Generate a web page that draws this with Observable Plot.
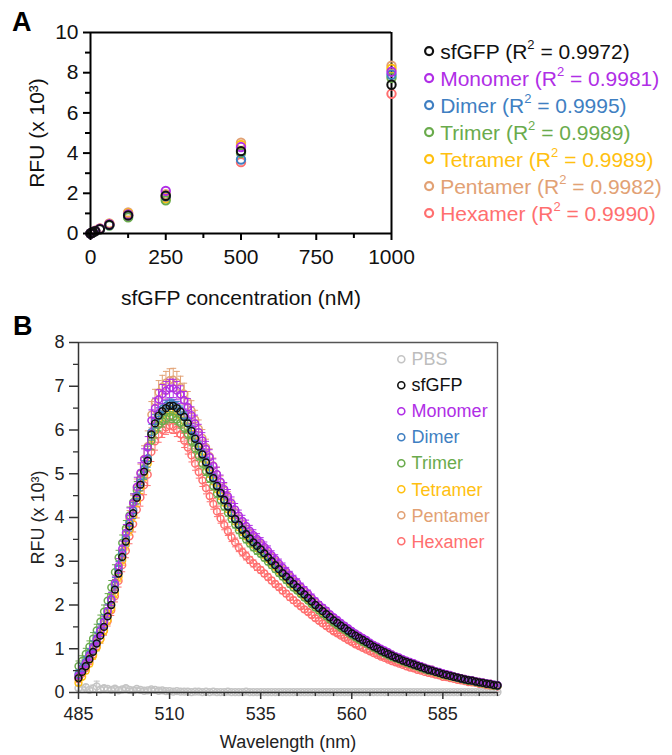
<!DOCTYPE html>
<html><head><meta charset="utf-8">
<script src="https://cdn.jsdelivr.net/npm/d3@7"></script>
<script src="https://cdn.jsdelivr.net/npm/@observablehq/plot@0.6"></script>
<style>
body{margin:0;background:#fff;font-family:"Liberation Sans",Arial,sans-serif;}
#wrap{position:relative;width:672px;height:755px;overflow:hidden;background:#fff;}
#wrap svg.p{position:absolute;left:0;}
.tag{position:absolute;font-weight:bold;font-size:27px;line-height:1;color:#000;}
.legend{position:absolute;}
.legend .row{display:flex;align-items:center;white-space:nowrap;line-height:1;}
.legend sup{font-size:0.62em;line-height:0;vertical-align:0.75em;}
</style></head><body><div id="wrap"></div>
<script>
// ---------- Panel A data (RFU x 10^3 vs sfGFP concentration, nM) ----------
const concentrations = [0, 3.9, 7.8, 15.6, 31.25, 62.5, 125, 250, 500, 1000];
const stdSfGFP    = [0, 0.03, 0.06, 0.12, 0.22, 0.43, 0.90, 1.88, 4.10, 7.40];
const stdMonomer  = [0, 0.03, 0.07, 0.13, 0.24, 0.46, 0.95, 2.12, 4.30, 8.05];
const stdDimer    = [0, 0.03, 0.06, 0.12, 0.22, 0.42, 0.90, 1.85, 3.68, 7.90];
const stdTrimer   = [0, 0.03, 0.06, 0.11, 0.21, 0.40, 0.80, 1.65, 4.00, 7.75];
const stdTetramer = [0, 0.03, 0.07, 0.13, 0.24, 0.48, 1.00, 1.75, 4.40, 8.20];
const stdPentamer = [0, 0.04, 0.07, 0.14, 0.25, 0.50, 1.05, 1.95, 4.52, 8.35];
const stdHexamer  = [0, 0.03, 0.06, 0.12, 0.22, 0.44, 0.88, 1.80, 3.55, 6.95];
const namesA = ["sfGFP", "Monomer", "Dimer", "Trimer", "Tetramer", "Pentamer", "Hexamer"];
const r2Values = ["0.9972", "0.9981", "0.9995", "0.9989", "0.9989", "0.9982", "0.9990"];
const xTicksA = [0, 250, 500, 750, 1000];
const xMinorA = [125, 375, 625, 875];
const yTicksA = [0, 2, 4, 6, 8, 10];
const yMinorA = [1, 3, 5, 7, 9];

// ---------- Panel B data (emission spectra, 485-600 nm, 1 nm steps) ----------
const wavelengths = d3.range(485, 601);
const specPBS = [0.1,0.08,0.12,0.06,0.09,0.14,0.07,0.1,0.08,0.06,
 0.09,0.05,0.07,0.1,0.06,0.05,0.08,0.06,0.04,0.05,
 0.07,0.06,0.04,0.05,0.03,0.03,0.02,0.03,0.02,0.02,
 0.02,0.01,0.02,0.02,0.01,0.02,0.01,0.02,0.01,0.01,
 0.01,0.02,0.01,0.01,0.01,0.01,0.02,0.01,0.01,0.01,
 0.01,0.01,0.01,0.01,0.01,0.01,0.01,0.01,0.01,0.01,
 0.01,0.01,0.01,0.01,0.01,0.01,0.01,0.01,0.01,0.01,
 0.01,0.01,0.01,0.01,0.01,0.01,0.01,0.01,0.01,0.01,
 0.01,0.01,0.01,0.01,0.01,0.01,0.01,0.01,0.01,0.01,
 0.01,0.01,0.01,0.01,0.01,0.01,0.01,0.01,0.01,0.01,
 0.01,0.01,0.01,0.01,0.01,0.01,0.01,0.01,0.01,0.01,
 0.01,0.01,0.01,0.01,0.01,0.01];
const specSfGFP = [0.33,0.47,0.6,0.76,0.93,1.12,1.3,1.5,1.74,2.0,
 2.35,2.72,3.1,3.45,3.8,4.1,4.45,4.75,5.05,5.3,
 5.9,6.15,6.33,6.43,6.5,6.55,6.55,6.5,6.42,6.3,
 6.15,5.98,5.8,5.62,5.44,5.26,5.08,4.9,4.72,4.56,
 4.4,4.25,4.1,3.96,3.83,3.72,3.62,3.52,3.43,3.35,
 3.27,3.18,3.09,3.0,2.91,2.82,2.73,2.65,2.56,2.48,
 2.4,2.32,2.24,2.16,2.08,2.0,1.93,1.86,1.79,1.72,
 1.65,1.59,1.53,1.47,1.41,1.35,1.3,1.25,1.2,1.15,
 1.1,1.05,1.01,0.96,0.92,0.88,0.84,0.8,0.77,0.73,
 0.7,0.67,0.64,0.61,0.58,0.55,0.52,0.5,0.47,0.45,
 0.42,0.4,0.38,0.36,0.34,0.32,0.3,0.28,0.27,0.25,
 0.23,0.22,0.2,0.19,0.17,0.16];
const specMonomer = [0.38,0.52,0.66,0.83,1.01,1.2,1.4,1.61,1.86,2.14,
 2.5,2.89,3.28,3.65,4.02,4.33,4.7,5.02,5.33,5.6,
 6.22,6.5,6.7,6.82,6.9,6.95,6.95,6.9,6.81,6.68,
 6.52,6.34,6.15,5.95,5.76,5.57,5.38,5.18,4.99,4.82,
 4.65,4.49,4.33,4.18,4.04,3.92,3.81,3.7,3.6,3.51,
 3.43,3.33,3.24,3.14,3.05,2.95,2.86,2.77,2.68,2.59,
 2.51,2.42,2.34,2.26,2.17,2.09,2.01,1.94,1.87,1.79,
 1.72,1.66,1.59,1.53,1.47,1.41,1.35,1.3,1.25,1.2,
 1.14,1.09,1.05,1.0,0.96,0.92,0.87,0.83,0.8,0.76,
 0.73,0.7,0.67,0.63,0.6,0.57,0.54,0.52,0.49,0.47,
 0.44,0.42,0.4,0.37,0.35,0.33,0.31,0.29,0.28,0.26,
 0.24,0.23,0.21,0.2,0.18,0.17];
const specDimer = [0.42,0.56,0.7,0.87,1.04,1.23,1.42,1.62,1.86,2.12,
 2.46,2.82,3.19,3.53,3.87,4.16,4.5,4.8,5.1,5.35,
 5.95,6.2,6.38,6.48,6.55,6.6,6.59,6.54,6.45,6.33,
 6.18,6.01,5.83,5.64,5.46,5.28,5.1,4.92,4.74,4.57,
 4.41,4.26,4.11,3.97,3.84,3.73,3.63,3.53,3.44,3.36,
 3.28,3.19,3.1,3.01,2.92,2.83,2.74,2.66,2.57,2.49,
 2.41,2.33,2.25,2.17,2.09,2.01,1.94,1.87,1.8,1.73,
 1.66,1.6,1.54,1.48,1.42,1.36,1.31,1.26,1.21,1.16,
 1.11,1.06,1.02,0.97,0.93,0.89,0.85,0.81,0.78,0.74,
 0.71,0.68,0.65,0.62,0.59,0.56,0.53,0.5,0.48,0.45,
 0.43,0.41,0.38,0.36,0.34,0.32,0.3,0.29,0.27,0.25,
 0.24,0.22,0.21,0.19,0.18,0.16];
const specTrimer = [0.6,0.72,0.88,1.05,1.23,1.42,1.62,1.85,2.1,2.4,
 2.75,3.08,3.42,3.75,4.05,4.35,4.62,4.88,5.12,5.35,
 5.75,5.98,6.12,6.2,6.26,6.3,6.29,6.24,6.16,6.05,
 5.91,5.75,5.58,5.41,5.23,5.06,4.89,4.72,4.55,4.4,
 4.25,4.11,3.97,3.84,3.71,3.6,3.5,3.41,3.32,3.24,
 3.17,3.08,2.99,2.91,2.82,2.73,2.65,2.57,2.48,2.4,
 2.33,2.25,2.17,2.1,2.02,1.94,1.87,1.8,1.74,1.67,
 1.6,1.54,1.48,1.43,1.37,1.31,1.26,1.21,1.16,1.12,
 1.07,1.02,0.98,0.93,0.89,0.85,0.81,0.78,0.75,0.71,
 0.68,0.65,0.62,0.59,0.56,0.53,0.5,0.49,0.46,0.44,
 0.41,0.39,0.37,0.35,0.33,0.31,0.29,0.27,0.26,0.24,
 0.22,0.21,0.19,0.18,0.16,0.15];
const specTetramer = [0.22,0.36,0.5,0.66,0.84,1.03,1.22,1.42,1.66,1.93,
 2.27,2.64,3.02,3.38,3.72,4.03,4.38,4.68,4.98,5.23,
 5.82,6.06,6.24,6.34,6.41,6.45,6.45,6.4,6.32,6.2,
 6.06,5.89,5.72,5.54,5.36,5.18,5.0,4.83,4.65,4.49,
 4.34,4.19,4.05,3.91,3.78,3.67,3.57,3.47,3.38,3.3,
 3.22,3.14,3.05,2.96,2.87,2.78,2.7,2.62,2.53,2.45,
 2.37,2.29,2.21,2.13,2.05,1.98,1.91,1.84,1.77,1.7,
 1.63,1.57,1.51,1.45,1.39,1.33,1.28,1.23,1.18,1.13,
 1.09,1.04,1.0,0.95,0.91,0.87,0.83,0.79,0.76,0.72,
 0.69,0.66,0.63,0.6,0.57,0.54,0.51,0.49,0.46,0.44,
 0.41,0.39,0.37,0.35,0.33,0.31,0.29,0.27,0.26,0.24,
 0.22,0.21,0.19,0.18,0.16,0.15];
const specPentamer = [0.35,0.49,0.63,0.79,0.97,1.16,1.35,1.56,1.8,2.08,
 2.44,2.83,3.22,3.6,3.97,4.3,4.67,5.0,5.34,5.63,
 6.35,6.65,6.86,6.99,7.08,7.14,7.15,7.09,6.98,6.83,
 6.65,6.45,6.24,6.03,5.82,5.61,5.4,5.19,4.99,4.8,
 4.62,4.45,4.28,4.12,3.98,3.85,3.74,3.63,3.54,3.45,
 3.37,3.28,3.18,3.09,3.0,2.9,2.81,2.73,2.64,2.55,
 2.47,2.39,2.31,2.22,2.14,2.06,1.99,1.92,1.84,1.77,
 1.7,1.64,1.58,1.51,1.45,1.39,1.34,1.29,1.24,1.18,
 1.13,1.08,1.04,0.99,0.95,0.91,0.87,0.82,0.79,0.75,
 0.72,0.69,0.66,0.63,0.6,0.57,0.54,0.52,0.48,0.46,
 0.43,0.41,0.39,0.37,0.35,0.33,0.31,0.29,0.28,0.26,
 0.24,0.23,0.21,0.2,0.18,0.16];
const specHexamer = [0.3,0.43,0.56,0.71,0.87,1.05,1.22,1.41,1.63,1.88,
 2.2,2.55,2.91,3.24,3.57,3.85,4.18,4.46,4.74,4.98,
 5.5,5.74,5.9,6.0,6.06,6.1,6.08,6.01,5.9,5.76,
 5.6,5.42,5.23,5.04,4.85,4.67,4.49,4.31,4.14,3.98,
 3.83,3.69,3.55,3.43,3.31,3.21,3.12,3.03,2.95,2.87,
 2.8,2.72,2.64,2.56,2.48,2.41,2.33,2.26,2.18,2.11,
 2.04,1.97,1.9,1.84,1.77,1.7,1.64,1.58,1.52,1.46,
 1.4,1.35,1.3,1.25,1.2,1.15,1.1,1.06,1.02,0.98,
 0.94,0.9,0.86,0.82,0.79,0.75,0.72,0.69,0.66,0.63,
 0.6,0.57,0.55,0.52,0.5,0.47,0.45,0.43,0.41,0.39,
 0.36,0.35,0.33,0.31,0.29,0.28,0.26,0.24,0.23,0.22,
 0.2,0.19,0.17,0.16,0.15,0.14];

// standard deviations (error bars)
const errPBS = [0.05,0.04,0.06,0.04,0.08,0.12,0.05,0.06,0.04,0.04,
 0.05,0.03,0.04,0.05,0.03,0.03,0.04,0.03,0.02,0.03,
 0.04,0.03,0.02,0.03,0.02,0.02,0.01,0.02,0.01,0.01,
 0.01,0.01,0.01,0.01,0.01,0.01,0.01,0.01,0.01,0.01,
 0.01,0.01,0.01,0.01,0.01,0.01,0.01,0.01,0.01,0.01,
 0.01,0.01,0.01,0.01,0.01,0.01,0.01,0.01,0.01,0.01,
 0.01,0.01,0.01,0.01,0.01,0.01,0.01,0.01,0.01,0.01,
 0.01,0.01,0.01,0.01,0.01,0.01,0.01,0.01,0.01,0.01,
 0.01,0.01,0.01,0.01,0.01,0.01,0.01,0.01,0.01,0.01,
 0.01,0.01,0.01,0.01,0.01,0.01,0.01,0.01,0.01,0.01,
 0.01,0.01,0.01,0.01,0.01,0.01,0.01,0.01,0.01,0.01,
 0.01,0.01,0.01,0.01,0.01,0.01];
const errMonomer = [0.06,0.07,0.08,0.09,0.1,0.11,0.12,0.13,0.14,0.15,
 0.16,0.17,0.18,0.19,0.2,0.21,0.22,0.23,0.24,0.25,
 0.24,0.23,0.22,0.22,0.21,0.21,0.21,0.21,0.2,0.2,
 0.2,0.19,0.19,0.18,0.18,0.17,0.17,0.16,0.16,0.15,
 0.15,0.15,0.14,0.14,0.13,0.13,0.13,0.12,0.12,0.12,
 0.11,0.11,0.11,0.1,0.1,0.1,0.1,0.09,0.09,0.09,
 0.09,0.08,0.08,0.08,0.08,0.07,0.07,0.07,0.07,0.06,
 0.06,0.06,0.06,0.06,0.05,0.05,0.05,0.05,0.05,0.05,
 0.04,0.04,0.04,0.04,0.04,0.04,0.04,0.04,0.04,0.04,
 0.03,0.03,0.03,0.03,0.03,0.03,0.03,0.03,0.03,0.03,
 0.03,0.03,0.03,0.03,0.03,0.03,0.03,0.03,0.03,0.03,
 0.02,0.02,0.02,0.02,0.02,0.02];
const errDimer = [0.1,0.11,0.12,0.13,0.14,0.15,0.15,0.16,0.16,0.17,
 0.17,0.17,0.18,0.18,0.18,0.18,0.19,0.19,0.2,0.2,
 0.18,0.15,0.13,0.12,0.12,0.11,0.11,0.11,0.1,0.1,
 0.1,0.1,0.1,0.09,0.09,0.09,0.09,0.08,0.08,0.08,
 0.07,0.07,0.07,0.07,0.07,0.07,0.07,0.07,0.07,0.07,
 0.06,0.06,0.06,0.06,0.06,0.06,0.06,0.06,0.06,0.06,
 0.05,0.05,0.05,0.05,0.05,0.05,0.05,0.05,0.05,0.05,
 0.05,0.05,0.05,0.05,0.05,0.05,0.05,0.05,0.05,0.05,
 0.04,0.04,0.04,0.04,0.04,0.04,0.04,0.04,0.04,0.04,
 0.03,0.03,0.03,0.03,0.03,0.03,0.03,0.03,0.03,0.03,
 0.02,0.02,0.02,0.02,0.02,0.02,0.02,0.02,0.02,0.02,
 0.02,0.02,0.02,0.02,0.02,0.02];
const errTrimer = [0.12,0.12,0.13,0.13,0.14,0.14,0.15,0.15,0.16,0.16,
 0.17,0.17,0.18,0.18,0.19,0.19,0.2,0.2,0.25,0.28,
 0.2,0.16,0.14,0.13,0.12,0.12,0.12,0.12,0.12,0.11,
 0.11,0.11,0.1,0.1,0.1,0.1,0.09,0.09,0.09,0.09,
 0.08,0.08,0.08,0.08,0.08,0.08,0.08,0.08,0.08,0.08,
 0.07,0.07,0.07,0.07,0.07,0.07,0.07,0.07,0.07,0.07,
 0.06,0.06,0.06,0.06,0.06,0.06,0.06,0.06,0.06,0.06,
 0.05,0.05,0.05,0.05,0.05,0.05,0.05,0.05,0.05,0.05,
 0.04,0.04,0.04,0.04,0.04,0.04,0.04,0.04,0.04,0.04,
 0.03,0.03,0.03,0.03,0.03,0.03,0.03,0.03,0.03,0.03,
 0.03,0.03,0.03,0.03,0.03,0.03,0.03,0.03,0.03,0.03,
 0.02,0.02,0.02,0.02,0.02,0.02];
const errTetramer = [0.06,0.06,0.07,0.07,0.08,0.08,0.09,0.09,0.1,0.1,
 0.1,0.11,0.11,0.12,0.12,0.12,0.13,0.13,0.14,0.14,
 0.13,0.12,0.12,0.11,0.11,0.11,0.11,0.11,0.1,0.1,
 0.1,0.1,0.09,0.09,0.09,0.09,0.08,0.08,0.08,0.08,
 0.07,0.07,0.07,0.07,0.07,0.07,0.07,0.07,0.07,0.07,
 0.06,0.06,0.06,0.06,0.06,0.06,0.06,0.06,0.06,0.06,
 0.05,0.05,0.05,0.05,0.05,0.05,0.05,0.05,0.05,0.05,
 0.04,0.04,0.04,0.04,0.04,0.04,0.04,0.04,0.04,0.04,
 0.04,0.04,0.04,0.04,0.04,0.04,0.04,0.04,0.04,0.04,
 0.03,0.03,0.03,0.03,0.03,0.03,0.03,0.03,0.03,0.03,
 0.02,0.02,0.02,0.02,0.02,0.02,0.02,0.02,0.02,0.02,
 0.02,0.02,0.02,0.02,0.02,0.02];
const errPentamer = [0.05,0.06,0.07,0.08,0.09,0.1,0.11,0.12,0.13,0.14,
 0.15,0.16,0.17,0.18,0.19,0.2,0.21,0.22,0.3,0.35,
 0.3,0.28,0.27,0.26,0.26,0.26,0.26,0.25,0.25,0.24,
 0.23,0.22,0.21,0.2,0.19,0.18,0.17,0.17,0.16,0.15,
 0.15,0.14,0.14,0.13,0.13,0.12,0.12,0.11,0.11,0.11,
 0.1,0.1,0.1,0.09,0.09,0.09,0.09,0.08,0.08,0.08,
 0.08,0.07,0.07,0.07,0.07,0.06,0.06,0.06,0.06,0.06,
 0.05,0.05,0.05,0.05,0.05,0.05,0.05,0.05,0.05,0.05,
 0.04,0.04,0.04,0.04,0.04,0.04,0.04,0.04,0.04,0.04,
 0.03,0.03,0.03,0.03,0.03,0.03,0.03,0.03,0.03,0.03,
 0.02,0.02,0.02,0.02,0.02,0.02,0.02,0.02,0.02,0.02,
 0.02,0.02,0.02,0.02,0.02,0.02];
const errHexamer = [0.04,0.05,0.05,0.06,0.07,0.08,0.09,0.1,0.11,0.12,
 0.13,0.14,0.15,0.16,0.17,0.18,0.19,0.2,0.22,0.25,
 0.22,0.2,0.18,0.17,0.16,0.16,0.16,0.16,0.16,0.16,
 0.15,0.15,0.15,0.14,0.14,0.13,0.13,0.12,0.12,0.11,
 0.11,0.1,0.1,0.1,0.09,0.09,0.09,0.08,0.08,0.08,
 0.07,0.07,0.07,0.07,0.07,0.07,0.07,0.07,0.07,0.07,
 0.06,0.06,0.06,0.06,0.06,0.06,0.06,0.06,0.06,0.06,
 0.05,0.05,0.05,0.05,0.05,0.05,0.05,0.05,0.05,0.05,
 0.04,0.04,0.04,0.04,0.04,0.04,0.04,0.04,0.04,0.04,
 0.03,0.03,0.03,0.03,0.03,0.03,0.03,0.03,0.03,0.03,
 0.03,0.03,0.03,0.03,0.03,0.03,0.03,0.03,0.03,0.03,
 0.02,0.02,0.02,0.02,0.02,0.02];

const namesB = ["PBS", "sfGFP", "Monomer", "Dimer", "Trimer", "Tetramer", "Pentamer", "Hexamer"];
const xTicksB = [485, 510, 535, 560, 585];
const xMinorB = [490, 495, 500, 505, 515, 520, 525, 530, 540, 545, 550, 555, 565, 570, 575, 580, 590, 595, 600];
const yTicksB = [0, 1, 2, 3, 4, 5, 6, 7, 8];
const yMinorB = [0.5, 1.5, 2.5, 3.5, 4.5, 5.5, 6.5, 7.5];

// colours
const seriesColors = {
  PBS: "#c4c4c4", sfGFP: "#111111", Monomer: "#b02ee6", Dimer: "#3f7fc2",
  Trimer: "#6aab4c", Tetramer: "#ffc010", Pentamer: "#e2a174", Hexamer: "#ff6f6f"
};
const FONT = "'Liberation Sans', Arial, sans-serif";

// ---------- build tables ----------
const stdTable = {sfGFP: stdSfGFP, Monomer: stdMonomer, Dimer: stdDimer, Trimer: stdTrimer,
  Tetramer: stdTetramer, Pentamer: stdPentamer, Hexamer: stdHexamer};
const orderA = ["Hexamer", "Pentamer", "Tetramer", "Trimer", "Dimer", "Monomer", "sfGFP"];
const dataA = orderA.flatMap(s => stdTable[s].map((v, i) => ({c: concentrations[i], v, s})));

const specTable = {PBS: specPBS, sfGFP: specSfGFP, Monomer: specMonomer, Dimer: specDimer,
  Trimer: specTrimer, Tetramer: specTetramer, Pentamer: specPentamer, Hexamer: specHexamer};
const errTable = {PBS: errPBS, Monomer: errMonomer, Dimer: errDimer, Trimer: errTrimer,
  Tetramer: errTetramer, Pentamer: errPentamer, Hexamer: errHexamer};
const orderB = ["PBS", "Hexamer", "Pentamer", "Tetramer", "Trimer", "Dimer", "Monomer", "sfGFP"];
const seriesRows = s => specTable[s].map((v, i) => {
  const e = errTable[s] ? errTable[s][i] : 0;
  return {w: wavelengths[i], v, lo: v - e, hi: v + e, s};
});

// horizontal cap symbol for error bars
const capSymbol = {draw(ctx, size) { const r = Math.sqrt(size / Math.PI); ctx.moveTo(-r, 0); ctx.lineTo(r, 0); }};

const wrap = document.getElementById("wrap");

// ---------- Panel A ----------
const plotA = Plot.plot({
  width: 672, height: 310,
  marginLeft: 90, marginRight: 281, marginTop: 32, marginBottom: 77,
  style: {fontSize: "21px", fontFamily: FONT, color: "#000", background: "transparent", overflow: "visible"},
  x: {domain: [0, 1000], label: null},
  y: {domain: [0, 10], label: null},
  color: {domain: namesA, range: namesA.map(n => seriesColors[n])},
  marks: [
    Plot.ruleY([10], {stroke: "#000", strokeWidth: 2}),
    Plot.ruleX([1000], {stroke: "#000", strokeWidth: 2}),
    Plot.dot(dataA, {x: "c", y: "v", stroke: "s", r: 4.2, strokeWidth: 2}),
    Plot.ruleY([0], {stroke: "#000", strokeWidth: 2}),
    Plot.ruleX([0], {stroke: "#000", strokeWidth: 2}),
    Plot.axisX({ticks: xTicksA, tickSize: 7, tickPadding: 9, strokeWidth: 2, stroke: "#000", fill: "#111", tickFormat: d => String(d), label: null}),
    Plot.axisX({ticks: xMinorA, tickSize: 5, strokeWidth: 2, stroke: "#000", tickFormat: () => "", label: null}),
    Plot.axisY({ticks: yTicksA, tickSize: 7, tickPadding: 5, strokeWidth: 2, stroke: "#000", fill: "#111", tickFormat: d => String(d), label: null}),
    Plot.axisY({ticks: yMinorA, tickSize: 5, strokeWidth: 2, stroke: "#000", tickFormat: () => "", label: null}),
    Plot.text(["sfGFP concentration (nM)"], {frameAnchor: "bottom", dy: 65, lineAnchor: "middle", textAnchor: "middle", fill: "#111"}),
    Plot.text(["RFU (x 10³)"], {frameAnchor: "left", dx: -53, rotate: -90, lineAnchor: "middle", textAnchor: "middle", fill: "#111"})
  ]
});
plotA.classList.add("p");
plotA.style.top = "0px";
wrap.appendChild(plotA);

// ---------- Panel B ----------
const seriesMarks = orderB.flatMap(s => {
  const rows = seriesRows(s);
  const marks = [];
  if (errTable[s]) {
    marks.push(Plot.ruleX(rows, {x: "w", y1: "lo", y2: "hi", stroke: "s", strokeWidth: 1}));
    marks.push(Plot.dot(rows, {x: "w", y: "hi", symbol: capSymbol, r: 3, stroke: "s", fill: "none", strokeWidth: 1}));
    marks.push(Plot.dot(rows, {x: "w", y: "lo", symbol: capSymbol, r: 3, stroke: "s", fill: "none", strokeWidth: 1}));
  }
  marks.push(Plot.dot(rows, {x: "w", y: "v", stroke: "s", r: 3.4, strokeWidth: 1.5}));
  return marks;
});

const plotB = Plot.plot({
  width: 672, height: 445,
  marginLeft: 78, marginRight: 175, marginTop: 32, marginBottom: 63,
  style: {fontSize: "18px", fontFamily: FONT, color: "#222", background: "transparent", overflow: "visible"},
  x: {domain: [485, 600], label: null},
  y: {domain: [0, 8], label: null},
  color: {domain: namesB, range: namesB.map(n => seriesColors[n])},
  marks: [
    Plot.ruleY([8], {stroke: "#555", strokeWidth: 1.4}),
    Plot.ruleX([600], {stroke: "#555", strokeWidth: 1.4}),
    ...seriesMarks,
    Plot.ruleY([0], {stroke: "#333", strokeWidth: 1.5}),
    Plot.ruleX([485], {stroke: "#333", strokeWidth: 1.5}),
    Plot.axisX({ticks: xTicksB, tickSize: 7, tickPadding: 8, strokeWidth: 1.5, stroke: "#333", fill: "#222", tickFormat: d => String(d), label: null}),
    Plot.axisX({ticks: xMinorB, tickSize: 4, strokeWidth: 1.3, stroke: "#333", tickFormat: () => "", label: null}),
    Plot.axisY({ticks: yTicksB, tickSize: 9, tickPadding: 5, strokeWidth: 1.5, stroke: "#333", fill: "#222", tickFormat: d => String(d), label: null}),
    Plot.axisY({ticks: yMinorB, tickSize: 5, strokeWidth: 1.3, stroke: "#333", tickFormat: () => "", label: null}),
    Plot.text(["Wavelength (nm)"], {frameAnchor: "bottom", dy: 50, lineAnchor: "middle", textAnchor: "middle", fill: "#222"}),
    Plot.text(["RFU (x 10³)"], {frameAnchor: "left", dx: -40, rotate: -90, lineAnchor: "middle", textAnchor: "middle", fill: "#222"})
  ]
});
plotB.classList.add("p");
plotB.style.top = "310px";
wrap.appendChild(plotB);

// ---------- tags ----------
function tag(t, x, y) {
  const d = document.createElement("div");
  d.className = "tag"; d.textContent = t;
  d.style.left = x + "px"; d.style.top = y + "px";
  wrap.appendChild(d);
}
tag("A", 12, 9);
tag("B", 13, 313);

// ---------- legends ----------
function legend(names, labelFn, left, top, step, fontSize, circR, circW, textColor) {
  const box = document.createElement("div");
  box.className = "legend";
  box.style.left = left + "px"; box.style.top = top + "px";
  box.style.fontSize = fontSize + "px";
  names.forEach((n, i) => {
    const row = document.createElement("div");
    row.className = "row";
    row.style.height = step + "px";
    const col = textColor(n);
    const sz = 2 * circR + circW + 2;
    row.innerHTML = `<svg width="${sz}" height="${sz}" style="flex:none"><circle cx="${sz/2}" cy="${sz/2}" r="${circR}" fill="none" stroke="${seriesColors[n]}" stroke-width="${circW}"/></svg>` +
      `<span style="color:${col};margin-left:5px">${labelFn(n, i)}</span>`;
    box.appendChild(row);
  });
  wrap.appendChild(box);
}
legend(namesA, (n, i) => `${n} (R<sup>2</sup> = ${r2Values[i]})`, 423, 37.5, 27, 21, 4, 2.2, n => seriesColors[n]);
legend(namesB, n => n, 396, 346, 26.1, 18, 3.5, 1.6, n => n === "PBS" ? "#bdbdbd" : seriesColors[n]);
</script></body></html>
